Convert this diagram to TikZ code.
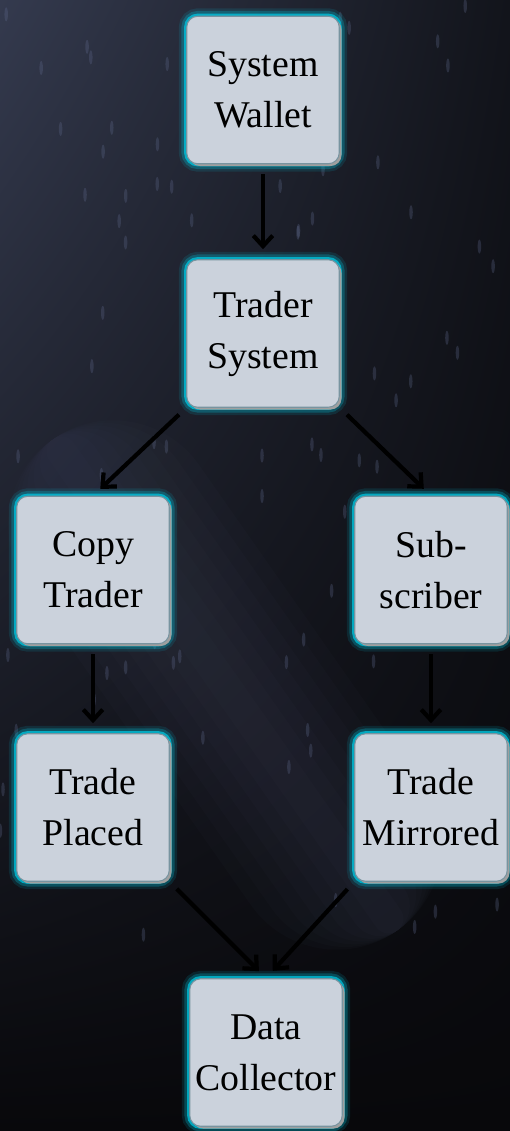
\documentclass[tikz,border=0pt]{standalone}
\usepackage{fontspec}
\setmainfont{Liberation Serif}
\usetikzlibrary{arrows.meta,shadows,shadings}
\definecolor{bgdark}{RGB}{8,8,11}
\definecolor{bgsky}{RGB}{52,58,78}
\definecolor{bgmid}{RGB}{18,20,27}
\definecolor{bgstreak}{RGB}{70,75,98}
\definecolor{bgdrop}{RGB}{95,105,140}
\definecolor{boxfill}{RGB}{203,210,220}
\definecolor{boxline}{RGB}{120,148,160}
\definecolor{glow}{RGB}{0,205,232}

\begin{document}
\begin{tikzpicture}[
  stage/.style={draw=boxline, line width=0.6pt, fill=boxfill, rounded corners=0.22cm,
    minimum width=3.05cm, minimum height=2.95cm, align=center,
    font=\fontsize{21.5}{29}\selectfont,
    preaction={draw=glow, line width=9pt, opacity=0.12},
    preaction={draw=glow, line width=6pt, opacity=0.25},
    preaction={draw=glow, line width=3pt, opacity=0.7},
    drop shadow={shadow xshift=1.3pt, shadow yshift=-1.3pt, fill=gray!75, opacity=1}},
  flow/.style={-{Straight Barb[length=6pt, width=11pt]}, line width=2.4pt, black,
    shorten <=0.2cm, shorten >=0.2cm}
]
% background
\useasboundingbox (0,0) rectangle (10.2,-22.62);
\shade[upper left=bgsky, upper right=bgmid, lower left=bgdark, lower right=bgdark]
  (0,0) rectangle (10.2,-22.62);
\foreach \w in {0.3,0.6,...,2.4}
  \fill[bgstreak, opacity=0.05, shift={(4.5,-13.7)}, rotate=-55, rounded corners=\w cm]
    (-6,-\w) rectangle (6,\w);
\pgfmathsetseed{11}
\foreach \i in {1,...,90}{
  \pgfmathsetmacro{\dx}{rnd*10.2}
  \pgfmathsetmacro{\dy}{-rnd*19}
  \fill[bgdrop, opacity=0.3] (\dx,\dy) ellipse (0.035cm and 0.14cm);
}

% stages
\node[stage] (wallet) at (5.26,-1.8) {System\\Wallet};
\node[stage] (trader) at (5.26,-6.67) {Trader\\System};
\node[stage] (copy) at (1.86,-11.4) {Copy\\Trader};
\node[stage] (sub) at (8.62,-11.4) {Sub-\\scriber};
\node[stage] (placed) at (1.86,-16.15) {Trade\\Placed};
\node[stage] (mirrored) at (8.62,-16.15) {Trade\\Mirrored};
\node[stage] (collector) at (5.32,-21.05) {Data\\Collector};

% connectors
\draw[flow] (wallet) -- (trader);
\draw[flow] (trader.south west) -- (copy.north);
\draw[flow] (trader.south east) -- (sub.north);
\draw[flow] (copy) -- (placed);
\draw[flow] (sub) -- (mirrored);
\draw[flow] (placed.south east) -- (collector.north);
\draw[flow] (mirrored.south west) -- (collector.north);
\end{tikzpicture}
\end{document}
